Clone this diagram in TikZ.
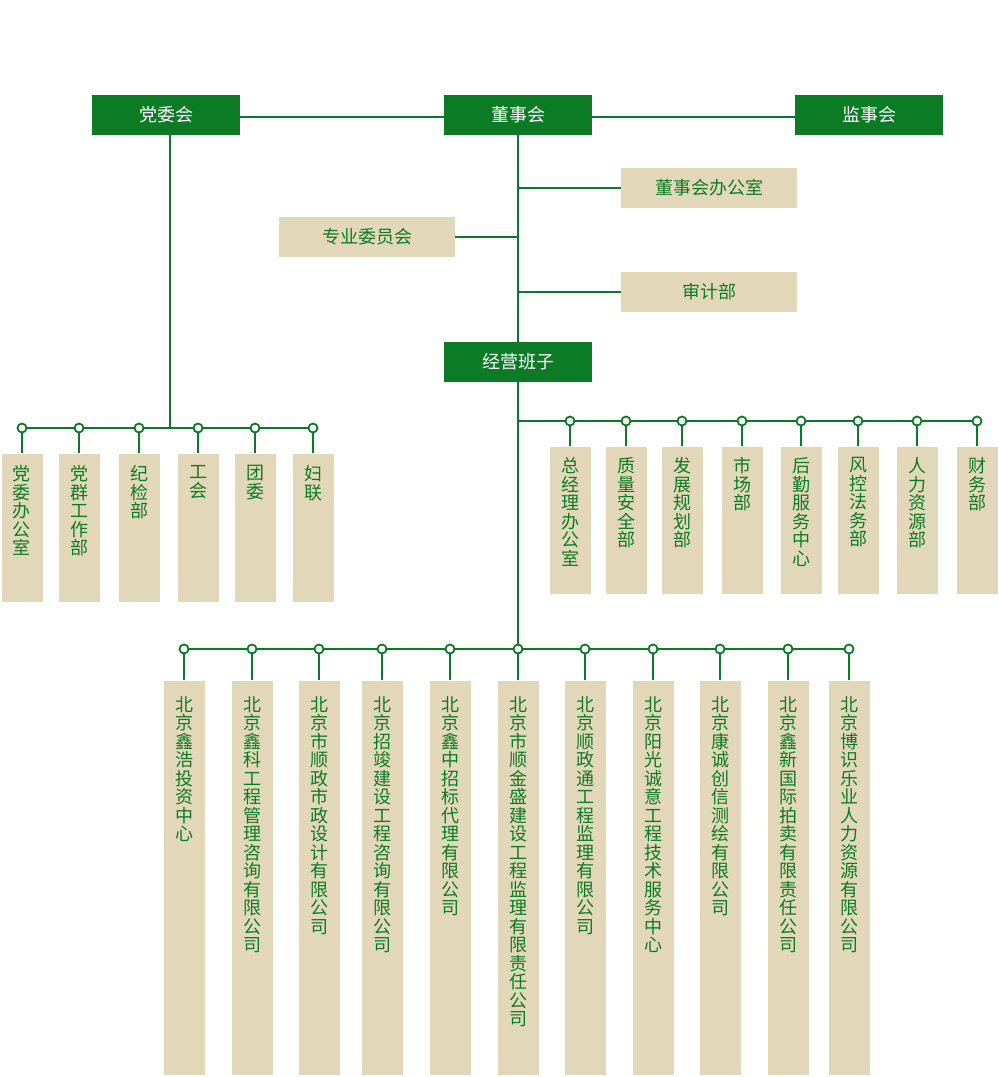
\documentclass[tikz,border=0pt]{standalone}
\usepackage{fontspec}
\newfontfamily\cjk{Noto Sans CJK SC}
\usetikzlibrary{positioning}
\definecolor{orggreen}{RGB}{12,123,38}
\definecolor{orgbeige}{RGB}{227,215,185}
% vertical text, one character per line
\def\vloop#1{\ifx\relax#1\else\hbox to 41pt{\hss#1\hss}\expandafter\vloop\fi}
\newcommand\vtext[3]{\edef\vtmp{#3}\vbox to #1{\vskip #2\expandafter\vloop\vtmp\relax\vfil}}

\begin{document}
\begin{tikzpicture}[x=1pt,y=-1pt,
 link/.style={draw=orggreen,line width=2pt},
 stem/.style={draw=orggreen,line width=1.2pt},
 head box/.style={fill=orggreen,text=white,minimum width=148pt,minimum height=40pt,inner sep=0pt,font=\cjk\fontsize{18}{20}\selectfont},
 side box/.style={fill=orgbeige,text=orggreen,minimum width=176pt,minimum height=40pt,inner sep=0pt,font=\cjk\fontsize{18}{20}\selectfont},
 dot/.style={circle,draw=orggreen,fill=white,line width=1.8pt,minimum size=9pt,inner sep=0pt},
 unit box/.style={fill=orgbeige,text=orggreen,inner sep=0pt,font=\cjk\fontsize{18}{18.5}\selectfont}]
\useasboundingbox (0,0) rectangle (999,1077);

 \node[head box](dw) at (166,115){党委会};
 \node[head box](ds) at (518,115){董事会};
 \node[head box](js) at (869,115){监事会};
 \node[side box](bgs) at (709,188){董事会办公室};
 \node[side box](zy) at (367,237){专业委员会};
 \node[side box](sj) at (709,292){审计部};
 \node[head box](jy) at (518,362){经营班子};

 \draw[link] ([yshift=-2pt]dw.east) -- ([yshift=-2pt]dw.east -| ds.west);
 \draw[link] ([yshift=-2pt]ds.east) -- ([yshift=-2pt]ds.east -| js.west);
 \draw[link] (ds) -- (jy);
 \draw[link] (bgs.west) -- (bgs.west -| ds.south);
 \draw[link] (zy.east) -- (zy.east -| ds.south);
 \draw[link] (sj.west) -- (sj.west -| ds.south);

% party side
\foreach \x/\n/\s in {22/1/党委办公室, 79/2/党群工作部, 139/3/纪检部, 198/4/工会, 255/5/团委, 313/6/妇联}{
    \node[dot](po\n) at (\x,428){};
    \node[unit box,below=20pt of po\n](p\n){\vtext{148pt}{12pt}{\s}};
    \draw[link] (po\n) -- (p\n);}
\foreach \a/\b in {1/2, 2/3, 3/4, 4/5, 5/6}
    \draw[link] (po\a) -- (po\b);
 \draw[link] ([xshift=4pt]dw.south) -- ([xshift=4pt]dw.south |- po1);

% departments
\foreach \x/\n/\s in {570/1/总经理办公室, 626/2/质量安全部, 682/3/发展规划部, 742/4/市场部, 801/5/后勤服务中心, 858/6/风控法务部, 917/7/人力资源部, 977/8/财务部}{
    \node[dot](do\n) at (\x,421){};
    \node[unit box,below=20pt of do\n](d\n){\vtext{147pt}{11pt}{\s}};
    \draw[link] (do\n) -- (d\n);}
\foreach \a/\b in {1/2, 2/3, 3/4, 4/5, 5/6, 6/7, 7/8}
    \draw[link] (do\a) -- (do\b);
 \draw[link] (jy |- do1) -- (do1);

% companies
\foreach \x/\n/\s in {184/1/北京鑫浩投资中心, 252/2/北京鑫科工程管理咨询有限公司, 319/3/北京市顺政市政设计有限公司, 382/4/北京招竣建设工程咨询有限公司, 450/5/北京鑫中招标代理有限公司, 518/6/北京市顺金盛建设工程监理有限责任公司, 585/7/北京顺政通工程监理有限公司, 653/8/北京阳光诚意工程技术服务中心, 720/9/北京康诚创信测绘有限公司, 788/10/北京鑫新国际拍卖有限责任公司, 849/11/北京博识乐业人力资源有限公司}{
    \node[dot](co\n) at (\x,649){};
    \node[unit box,below=26pt of co\n](c\n){\vtext{394pt}{16pt}{\s}};
    \draw[stem] (co\n) -- (c\n);}
\foreach \a/\b in {1/2, 2/3, 3/4, 4/5, 5/6, 6/7, 7/8, 8/9, 9/10, 10/11}
    \draw[link] (co\a) -- (co\b);
 \draw[link] (jy) -- (co6);
\end{tikzpicture}
\end{document}
